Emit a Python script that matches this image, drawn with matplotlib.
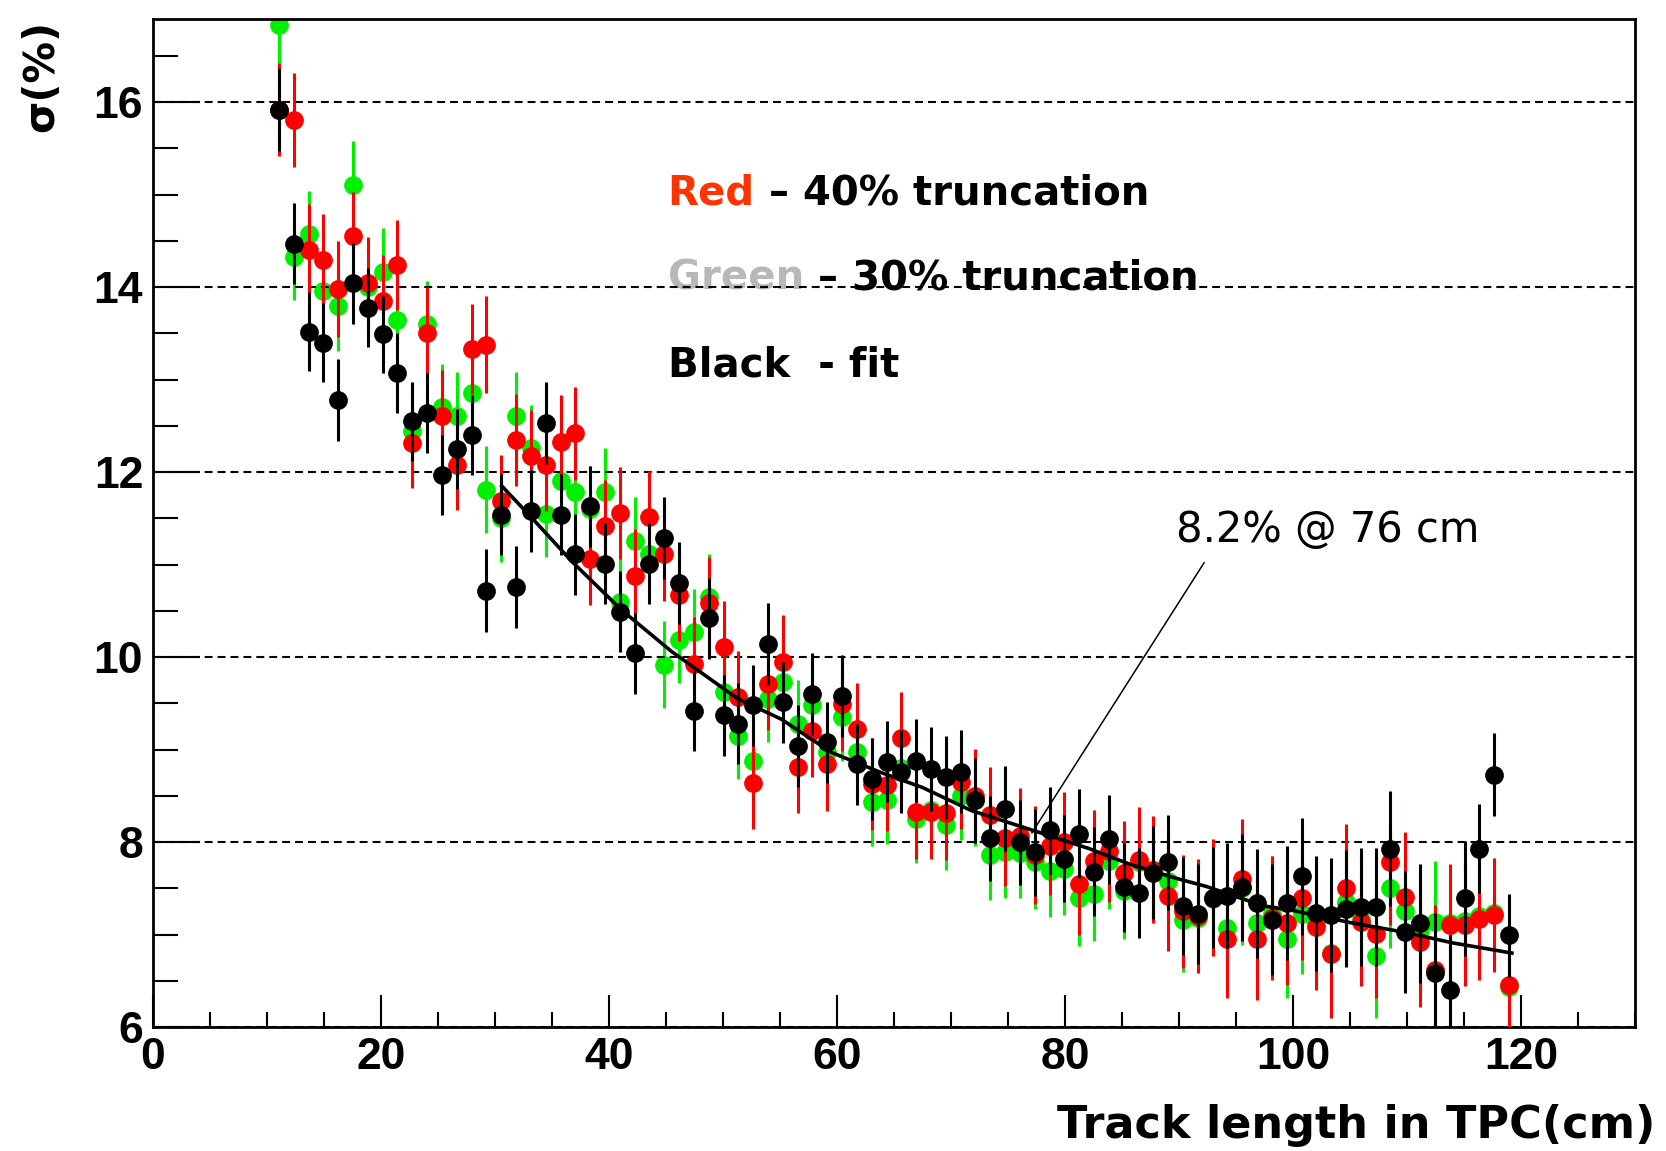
import numpy as np
import matplotlib.pyplot as plt
from matplotlib.ticker import MultipleLocator

plt.rcParams.update({
    'font.family': 'Liberation Sans',
    'font.weight': 'bold',
    'font.size': 32,
})
WIDE = 'DejaVu Sans'

# histogram binning: 100 bins over 0-130 cm, filled bins 8..91
edges = np.linspace(0, 130, 101)
centers = 0.5 * (edges[:-1] + edges[1:])
track_len = centers[8:92]

# resolution (%) per bin
sigma_black = [
    15.92, 14.47, 13.52, 13.40, 12.78, 14.04, 13.78, 13.49, 13.07, 12.55, 12.64, 11.97, 12.25, 12.40,
    10.72, 11.54, 10.76, 11.58, 12.53, 11.54, 11.11, 11.63, 11.01, 10.49, 10.04, 11.01, 11.29, 10.80,
    9.42, 10.42, 9.37, 9.28, 9.48, 10.14, 9.51, 9.04, 9.60, 9.08, 9.58, 8.84, 8.68, 8.87,
    8.76, 8.88, 8.79, 8.70, 8.76, 8.45, 8.04, 8.36, 8.00, 7.89, 8.13, 7.82, 8.09, 7.68,
    8.03, 7.51, 7.45, 7.67, 7.78, 7.31, 7.22, 7.40, 7.42, 7.51, 7.34, 7.16, 7.34, 7.63,
    7.23, 7.21, 7.28, 7.30, 7.30, 7.93, 7.03, 7.12, 6.58, 6.40, 7.39, 7.93, 8.73, 6.99,
]
sigma_red = [
    15.92, 15.81, 14.40, 14.29, 13.98, 14.55, 14.04, 13.85, 14.24, 12.32, 13.51, 12.61, 12.08, 13.33,
    13.38, 11.69, 12.35, 12.17, 12.08, 12.33, 12.42, 11.06, 11.42, 11.56, 10.88, 11.51, 11.11, 10.67,
    9.93, 10.58, 10.11, 9.57, 8.64, 9.71, 9.95, 8.81, 9.20, 8.84, 9.49, 9.22, 8.63, 8.62,
    9.12, 8.32, 8.32, 8.31, 8.65, 8.50, 8.29, 8.04, 8.07, 7.86, 7.96, 8.00, 7.55, 7.80,
    7.90, 7.67, 7.81, 7.70, 7.42, 7.25, 7.20, 7.40, 6.95, 7.60, 6.95, 7.18, 7.13, 7.40,
    7.08, 6.79, 7.50, 7.14, 7.01, 7.78, 7.41, 6.92, 6.62, 7.10, 7.10, 7.17, 7.21, 6.45,
]
sigma_green = [
    16.83, 14.33, 14.58, 13.96, 13.80, 15.10, 14.00, 14.16, 13.64, 12.45, 13.60, 12.70, 12.61, 12.86,
    11.81, 11.50, 12.61, 12.26, 11.55, 11.90, 11.79, 11.60, 11.79, 10.60, 11.26, 11.11, 9.92, 10.19,
    10.27, 10.65, 9.62, 9.15, 8.88, 9.55, 9.73, 9.28, 9.48, 8.97, 9.35, 8.97, 8.43, 8.45,
    8.80, 8.25, 8.35, 8.18, 8.50, 8.45, 7.86, 7.89, 7.88, 7.78, 7.69, 7.71, 7.39, 7.44,
    7.79, 7.47, 7.78, 7.70, 7.58, 7.16, 7.18, 7.38, 7.07, 7.50, 7.13, 7.22, 6.95, 7.22,
    7.12, 6.80, 7.35, 7.17, 6.77, 7.50, 7.25, 7.05, 7.14, 7.12, 7.15, 7.20, 7.23, 6.43,
]

err_black = [
    0.45, 0.44, 0.43, 0.43, 0.44, 0.44, 0.43, 0.42, 0.43, 0.43, 0.43, 0.43, 0.43, 0.43,
    0.45, 0.44, 0.44, 0.44, 0.44, 0.44, 0.44, 0.44, 0.44, 0.44, 0.44, 0.44, 0.44, 0.44,
    0.44, 0.44, 0.44, 0.44, 0.44, 0.44, 0.44, 0.44, 0.44, 0.44, 0.44, 0.44, 0.44, 0.44,
    0.45, 0.45, 0.45, 0.45, 0.45, 0.46, 0.46, 0.46, 0.46, 0.47, 0.47, 0.47, 0.48, 0.48,
    0.48, 0.48, 0.49, 0.50, 0.51, 0.53, 0.54, 0.55, 0.57, 0.58, 0.59, 0.60, 0.62, 0.63,
    0.62, 0.62, 0.63, 0.64, 0.64, 0.62, 0.66, 0.64, 0.65, 0.60, 0.62, 0.48, 0.45, 0.45,
]
err_red = [
    0.50, 0.51, 0.50, 0.50, 0.52, 0.48, 0.50, 0.50, 0.49, 0.49, 0.49, 0.49, 0.49, 0.49,
    0.52, 0.50, 0.50, 0.50, 0.50, 0.50, 0.50, 0.50, 0.50, 0.50, 0.50, 0.50, 0.50, 0.50,
    0.50, 0.50, 0.50, 0.50, 0.50, 0.50, 0.50, 0.50, 0.50, 0.50, 0.50, 0.50, 0.50, 0.50,
    0.50, 0.50, 0.50, 0.50, 0.51, 0.51, 0.52, 0.52, 0.52, 0.53, 0.53, 0.54, 0.55, 0.55,
    0.55, 0.56, 0.57, 0.58, 0.60, 0.61, 0.62, 0.63, 0.64, 0.65, 0.66, 0.67, 0.68, 0.68,
    0.68, 0.69, 0.70, 0.70, 0.70, 0.68, 0.70, 0.70, 0.70, 0.66, 0.66, 0.66, 0.62, 0.52,
]
err_green = [
    0.46, 0.47, 0.46, 0.47, 0.49, 0.48, 0.47, 0.48, 0.47, 0.47, 0.47, 0.47, 0.47, 0.47,
    0.47, 0.47, 0.47, 0.47, 0.47, 0.47, 0.47, 0.47, 0.47, 0.47, 0.47, 0.47, 0.47, 0.47,
    0.47, 0.47, 0.47, 0.47, 0.47, 0.47, 0.47, 0.47, 0.47, 0.47, 0.47, 0.47, 0.47, 0.47,
    0.48, 0.48, 0.48, 0.48, 0.48, 0.49, 0.49, 0.49, 0.49, 0.50, 0.50, 0.50, 0.51, 0.51,
    0.51, 0.52, 0.53, 0.54, 0.55, 0.57, 0.58, 0.59, 0.60, 0.61, 0.62, 0.63, 0.64, 0.65,
    0.65, 0.66, 0.66, 0.67, 0.67, 0.65, 0.67, 0.66, 0.66, 0.63, 0.63, 0.55, 0.50, 0.48,
]

# fitted curve through the black points
fit_x = [30.6, 33.2, 36.7, 41.1, 45.5, 51.3, 55.1, 59.5, 63.9, 67.5, 71.8, 77.1,
         82.1, 85.7, 90.0, 92.4, 97.4, 100.0, 105.0, 110.0, 114.0, 119.2]
fit_y = [11.85, 11.51, 11.04, 10.51, 10.06, 9.55, 9.33, 8.97, 8.75, 8.59, 8.34, 8.13,
         7.93, 7.76, 7.60, 7.52, 7.31, 7.26, 7.13, 7.02, 6.91, 6.80]

fig = plt.figure(figsize=(16.66, 11.51), dpi=100)
ax = fig.add_axes([0.0918, 0.1077, 0.8896, 0.8758])

series = [
    (sigma_green, err_green, '#00f000', 2),
    (sigma_red, err_red, '#ff0000', 3),
    (sigma_black, err_black, 'black', 4),
]
for vals, errs, col, z in series:
    ax.errorbar(track_len, vals, yerr=errs, fmt='o', color=col, ms=13.5, mew=0,
                elinewidth=2.2, capsize=0, zorder=z)

ax.plot(fit_x, fit_y, color='black', lw=2.6, zorder=6)

# pointer line to the quoted value
ax.plot([77.1, 92.2], [8.10, 11.02], color='black', lw=1.1, zorder=6)
ax.text(89.7, 11.24, '8.2% @ 76 cm', fontsize=30, fontweight='normal', family=WIDE,
        va='baseline')

# coloured legend text
fs = 29
t1 = ax.text(45.15, 14.89, 'Red', color='#ff3300', fontsize=fs, family=WIDE,
             va='baseline', zorder=1)
ax.annotate(' \u2013 40% truncation', xy=(1, 0), xycoords=t1, va='bottom', ha='left',
            fontsize=fs, family=WIDE, fontweight='bold', color='black', zorder=1)
t2 = ax.text(45.15, 13.97, 'Green', color='#b8b8b8', fontsize=fs, family=WIDE,
             va='baseline', zorder=1)
ax.annotate(' \u2013 30% truncation', xy=(1, 0), xycoords=t2, va='bottom', ha='left',
            fontsize=fs, family=WIDE, fontweight='bold', color='black', zorder=1)
ax.text(45.15, 13.03, 'Black  - fit', color='black', fontsize=fs, family=WIDE,
        va='baseline', zorder=1)

ax.set_xlim(0, 130)
ax.set_ylim(6, 16.9)
ax.xaxis.set_major_locator(MultipleLocator(20))
ax.xaxis.set_minor_locator(MultipleLocator(5))
ax.yaxis.set_major_locator(MultipleLocator(2))
ax.yaxis.set_minor_locator(MultipleLocator(0.5))
ax.set_xticks([0, 20, 40, 60, 80, 100, 120])

ax.yaxis.grid(True, which='major', color='black', ls=(0, (3.8, 2.4)), lw=1.5, zorder=1.5)
ax.set_axisbelow(False)

ax.tick_params(axis='both', which='both', direction='in', top=False, right=False, width=1.5)
ax.tick_params(axis='x', which='major', length=23, pad=7, labelsize=32)
ax.tick_params(axis='x', which='minor', length=11)
ax.tick_params(axis='y', which='major', length=34, pad=7, labelsize=32)
ax.tick_params(axis='y', which='minor', length=18)
for lab in ax.get_xticklabels() + ax.get_yticklabels():
    lab.set_fontweight('bold')
for sp in ax.spines.values():
    sp.set_linewidth(2)

fig.text(0.9934, 0.0113, 'Track length in TPC(cm)', ha='right', va='baseline',
         fontsize=32, fontweight='bold', family=WIDE)
fig.text(0.025, 0.983, '\u03c3(%)', rotation=90, ha='center', va='top',
         fontsize=30, fontweight='bold', family=WIDE)

fig.savefig('out.png', dpi=100)
